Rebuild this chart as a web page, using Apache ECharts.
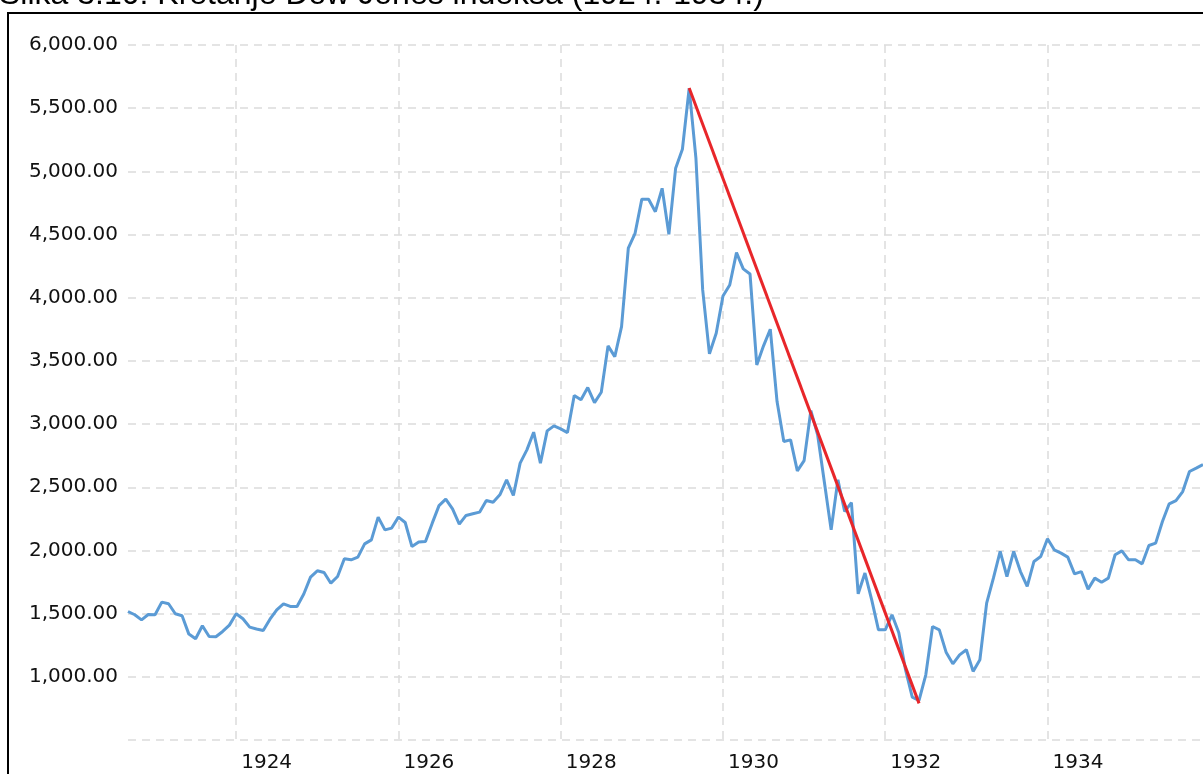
<!DOCTYPE html>
<html style="height: 100%">

<head>
    <meta charset="utf-8">
    <script src="https://cdn.jsdelivr.net/npm/echarts@6/dist/echarts.min.js"></script>
</head>

<body style="height: 100%; margin: 0">
    <div id="container" style="width: 1203px; height: 774px"></div>

    <script type="text/javascript">
        // Dow Jones (real), monthly, Sep 1922 - Dec 1935
        var startYear = 1922;
        var startMonth = 9;

        var dow1922 = [1517, 1491, 1451, 1493];
        var dow1923 = [1491, 1591, 1578, 1499, 1483, 1338, 1301, 1404, 1319, 1317, 1359, 1409];
        var dow1924 = [1499, 1459, 1393, 1378, 1367, 1456, 1530, 1578, 1557, 1557, 1655, 1789];
        var dow1925 = [1839, 1825, 1741, 1794, 1934, 1926, 1947, 2052, 2084, 2264, 2163, 2177];
        var dow1926 = [2264, 2221, 2031, 2066, 2071, 2216, 2355, 2406, 2329, 2208, 2277, 2290];
        var dow1927 = [2303, 2395, 2382, 2440, 2559, 2435, 2691, 2796, 2936, 2691, 2946, 2986];
        var dow1928 = [2962, 2933, 3226, 3192, 3289, 3170, 3252, 3619, 3534, 3771, 4392, 4510];
        var dow1929 = [4780, 4780, 4681, 4866, 4502, 5025, 5175, 5657, 5104, 4062, 3556, 3719];
        var dow1930 = [4014, 4101, 4357, 4228, 4188, 3468, 3619, 3751, 3178, 2862, 2875, 2630];
        var dow1931 = [2711, 3107, 2915, 2540, 2163, 2559, 2308, 2379, 1657, 1821, 1609, 1372];
        var dow1932 = [1372, 1491, 1351, 1056, 840, 813, 1016, 1398, 1372, 1195, 1103, 1174];
        var dow1933 = [1214, 1043, 1135, 1583, 1781, 1992, 1794, 1992, 1833, 1715, 1913, 1952];
        var dow1934 = [2092, 2005, 1979, 1947, 1815, 1833, 1694, 1781, 1749, 1781, 1966, 1997];
        var dow1935 = [1926, 1926, 1894, 2039, 2058, 2229, 2369, 2395, 2466, 2625, 2651, 2680];

        // crash trend line: peak -> bottom
        var trendFrom = ['1929-08', 5660];
        var trendTo = ['1932-06', 790];

        var values = [].concat(dow1922, dow1923, dow1924, dow1925, dow1926, dow1927, dow1928,
            dow1929, dow1930, dow1931, dow1932, dow1933, dow1934, dow1935);

        var months = [];
        for (var i = 0; i < values.length; i++) {
            var m = startMonth - 1 + i;
            var y = startYear + Math.floor(m / 12);
            var mm = (m % 12) + 1;
            months.push(y + '-' + (mm < 10 ? '0' + mm : mm));
        }

        function isEvenJanuary(index, value) {
            var p = value.split('-');
            return p[1] === '01' && (+p[0]) % 2 === 0;
        }

        var dom = document.getElementById("container");
        var myChart = echarts.init(dom);
        var option = null;
        option = {
            animation: false,
            backgroundColor: '#fff',
            graphic: [
                {
                    type: 'rect',
                    shape: { x: 8, y: 13, width: 1300, height: 900 },
                    style: { fill: 'none', stroke: '#000', lineWidth: 2 },
                    silent: true
                },
                {
                    type: 'text',
                    style: {
                        x: -1,
                        y: 11,
                        text: 'Slika 3.10: Kretanje Dow Jones indeksa (1924.-1934.)',
                        fontFamily: 'Liberation Sans, Arial',
                        fontSize: 32,
                        fill: '#000',
                        verticalAlign: 'bottom'
                    }
                }
            ],
            grid: {
                left: 128,
                right: 0,
                top: 45,
                bottom: 34
            },
            xAxis: {
                type: 'category',
                data: months,
                boundaryGap: false,
                axisLine: { show: false },
                axisTick: { show: false },
                axisLabel: {
                    interval: isEvenJanuary,
                    formatter: function (v) { return v.split('-')[0]; },
                    fontFamily: 'DejaVu Sans',
                    fontSize: 20,
                    color: '#111',
                    align: 'left',
                    padding: [0, 0, 0, 5],
                    margin: 13
                },
                splitLine: {
                    show: true,
                    interval: isEvenJanuary,
                    lineStyle: { color: '#dcdcdc', width: 1.5, type: [8, 6] }
                }
            },
            yAxis: {
                type: 'value',
                min: 500,
                max: 6000,
                interval: 500,
                axisLine: { show: false },
                axisTick: { show: false },
                axisLabel: {
                    showMinLabel: false,
                    fontFamily: 'DejaVu Sans',
                    fontSize: 20,
                    color: '#111',
                    margin: 10,
                    formatter: function (v) {
                        return v.toLocaleString('en-US', { minimumFractionDigits: 2, maximumFractionDigits: 2 });
                    }
                },
                splitLine: {
                    lineStyle: { color: '#dcdcdc', width: 1.5, type: [8, 6] }
                }
            },
            series: [
                {
                    name: 'Dow Jones',
                    type: 'line',
                    data: values,
                    symbol: 'none',
                    lineStyle: { color: '#5b9bd5', width: 3 }
                },
                {
                    name: 'trend',
                    type: 'line',
                    data: [trendFrom, trendTo],
                    symbol: 'none',
                    z: 3,
                    lineStyle: { color: '#e8262a', width: 3 }
                }
            ]
        };
        if (option && typeof option === "object") {
            myChart.setOption(option, true);
        }
    </script>
</body>

</html>
